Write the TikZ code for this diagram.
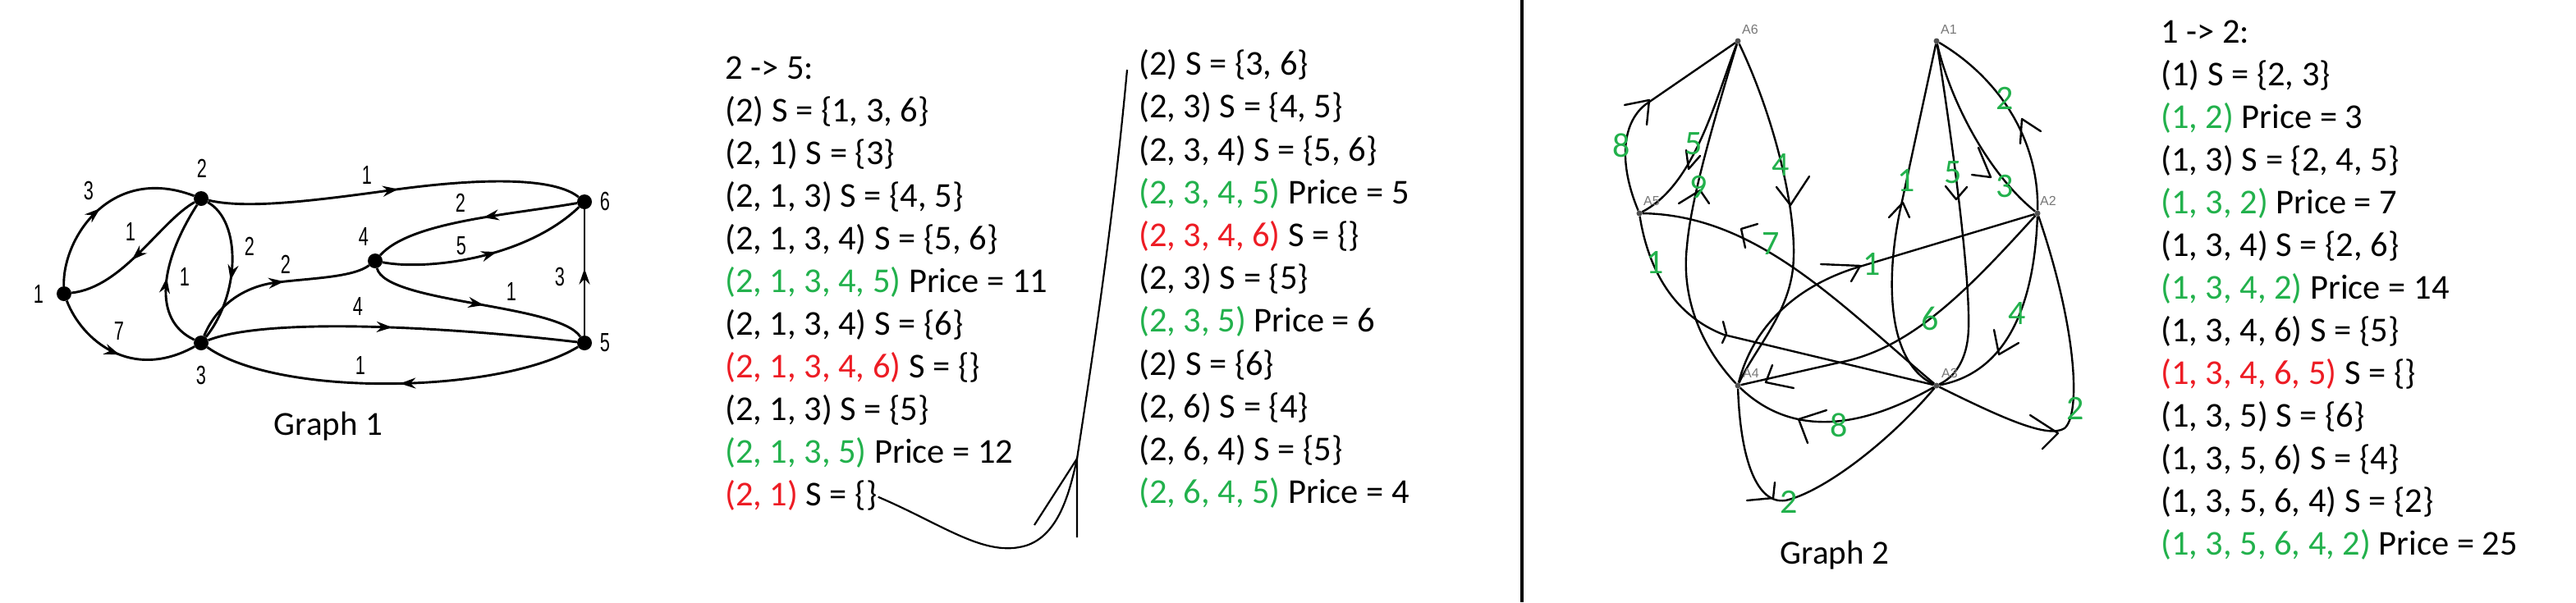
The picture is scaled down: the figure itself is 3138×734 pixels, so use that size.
\documentclass[tikz,border=0pt]{standalone}
\usepackage{graphicx}
\usepackage{fontspec}
\setmainfont{Carlito}
\newfontfamily\arialf{Liberation Sans}
\usetikzlibrary{arrows.meta,decorations.markings}
\definecolor{pgreen}{RGB}{34,177,76}
\definecolor{pred}{RGB}{237,28,36}
\definecolor{nodegray}{RGB}{80,80,80}
\definecolor{labgray}{RGB}{120,120,120}
\newcommand\nrw[1]{\scalebox{0.68}[1]{#1}}
\begin{document}
\begin{tikzpicture}[x=1pt,y=-1pt,
  txt/.style={anchor=base west,inner sep=0pt,font=\fontsize{42.5}{51}\selectfont},
  captxt/.style={anchor=base,inner sep=0pt,font=\fontsize{41}{49}\selectfont},
  g1dot/.style={circle,fill=black,inner sep=0pt,minimum size=18pt},
  g1edge/.style={line width=2.9pt},
  marr/.style={postaction={decorate},decoration={markings,mark=at position #1 with {\arrow{Stealth[length=19pt,width=13pt]}}}},
  g1lab/.style={inner sep=0pt,font=\arialf\fontsize{32}{38}\selectfont},
  g2dot/.style={circle,fill=nodegray,inner sep=0pt,minimum size=7pt},
  g2name/.style={anchor=base west,inner sep=0pt,text=labgray,font=\arialf\fontsize{16}{19}\selectfont},
  g2edge/.style={line width=2.4pt},
  chev/.style={line width=2.4pt,line cap=round,line join=round},
  g2w/.style={inner sep=0pt,text=pgreen,font=\fontsize{42}{50}\selectfont},
  conn/.style={line width=2.2pt},
]
\fill[white] (0,0) rectangle (3138,734);
\useasboundingbox (0,0) rectangle (3138,734);

% ---------------- Graph 1 ----------------
\node[g1dot] (n1) at (78,358) {};
\node[g1dot] (n2) at (245,242) {};
\node[g1dot] (n3) at (245,418) {};
\node[g1dot] (n4) at (457,318) {};
\node[g1dot] (n5) at (712,418) {};
\node[g1dot] (n6) at (712,246) {};

\draw[g1edge,marr=0.47] (n1) .. controls (76,290) and (135,200) .. (n2);
\draw[g1edge,marr=0.55] (n2) .. controls (195,270) and (150,350) .. (n1);
\draw[g1edge,marr=0.5] (n1) .. controls (100,415) and (160,465) .. (n3);
\draw[g1edge,marr=0.48] (n3) .. controls (185,390) and (195,320) .. (n2);
\draw[g1edge,marr=0.58] (n2) .. controls (295,270) and (292,360) .. (n3);
\draw[g1edge,marr=0.54] (n3) .. controls (265,370) and (300,348) .. (339,344) .. controls (380,339) and (430,338) .. (n4);
\draw[g1edge,marr=0.51] (n2) .. controls (300,255) and (380,245) .. (475,232) .. controls (560,220) and (670,212) .. (n6);
\draw[g1edge,marr=0.46] (n6) .. controls (620,262) and (500,270) .. (n4);
\draw[g1edge,marr=0.55] (n4) .. controls (520,330) and (640,315) .. (n6);
\draw[g1edge,marr=0.53] (n4) .. controls (470,370) and (680,370) .. (n5);
\draw[g1edge,marr=0.5] (n3) .. controls (330,385) and (560,400) .. (n5);
\draw[g1edge,marr=0.48] (n5) .. controls (610,480) and (340,485) .. (n3);
\draw[g1edge,marr=0.53] (n5) -- (n6);

\node[g1lab] (v1) at (47,358) {\nrw{1}};
\node[g1lab] (v2) at (246,205) {\nrw{2}};
\node[g1lab] (v3) at (245,457) {\nrw{3}};
\node[g1lab] (v4) at (443,288) {\nrw{4}};
\node[g1lab] (v5) at (737,418) {\nrw{5}};
\node[g1lab] (v6) at (737,245) {\nrw{6}};

\node[g1lab] (w12) at (108,232) {\nrw{3}};
\node[g1lab] (w21) at (159,282) {\nrw{1}};
\node[g1lab] (w13) at (145,403) {\nrw{7}};
\node[g1lab] (w32) at (225,337) {\nrw{1}};
\node[g1lab] (w23) at (304,300) {\nrw{2}};
\node[g1lab] (w34) at (348,322) {\nrw{2}};
\node[g1lab] (w26) at (447,213) {\nrw{1}};
\node[g1lab] (w64) at (561,247) {\nrw{2}};
\node[g1lab] (w46) at (562,300) {\nrw{5}};
\node[g1lab] (w45) at (623,355) {\nrw{1}};
\node[g1lab] (w56) at (682,337) {\nrw{3}};
\node[g1lab] (w35) at (436,373) {\nrw{4}};
\node[g1lab] (w53) at (439,445) {\nrw{1}};

\node[captxt] (cap1) at (400,530) {Graph 1};

% ---------------- Column 1 ----------------
\node[txt] (c1l0) at (883,96.7) {2 -> 5:};
\node[txt] (c1l1) at (883,148.7) {(2) S = \{1, 3, 6\}};
\node[txt] (c1l2) at (883,200.7) {(2, 1) S = \{3\}};
\node[txt] (c1l3) at (883,252.7) {(2, 1, 3) S = \{4, 5\}};
\node[txt] (c1l4) at (883,304.7) {(2, 1, 3, 4) S = \{5, 6\}};
\node[txt] (c1l5) at (883,356.7) {\textcolor{pgreen}{(2, 1, 3, 4, 5)} Price = 11};
\node[txt] (c1l6) at (883,408.7) {(2, 1, 3, 4) S = \{6\}};
\node[txt] (c1l7) at (883,460.7) {\textcolor{pred}{(2, 1, 3, 4, 6)} S = \{\}};
\node[txt] (c1l8) at (883,512.7) {(2, 1, 3) S = \{5\}};
\node[txt] (c1l9) at (883,564.7) {\textcolor{pgreen}{(2, 1, 3, 5)} Price = 12};
\node[txt] (c1l10) at (883,616.7) {\textcolor{pred}{(2, 1)} S = \{\}};

% ---------------- Column 2 ----------------
\node[txt] (c2l0) at (1387,91.7) {(2) S = \{3, 6\}};
\node[txt] (c2l1) at (1387,143.9) {(2, 3) S = \{4, 5\}};
\node[txt] (c2l2) at (1387,196.1) {(2, 3, 4) S = \{5, 6\}};
\node[txt] (c2l3) at (1387,248.3) {\textcolor{pgreen}{(2, 3, 4, 5)} Price = 5};
\node[txt] (c2l4) at (1387,300.5) {\textcolor{pred}{(2, 3, 4, 6)} S = \{\}};
\node[txt] (c2l5) at (1387,352.7) {(2, 3) S = \{5\}};
\node[txt] (c2l6) at (1387,404.9) {\textcolor{pgreen}{(2, 3, 5)} Price = 6};
\node[txt] (c2l7) at (1387,457.1) {(2) S = \{6\}};
\node[txt] (c2l8) at (1387,509.3) {(2, 6) S = \{4\}};
\node[txt] (c2l9) at (1387,561.5) {(2, 6, 4) S = \{5\}};
\node[txt] (c2l10) at (1387,613.7) {\textcolor{pgreen}{(2, 6, 4, 5)} Price = 4};

% connector between columns
\coordinate (cs) at ([xshift=1pt,yshift=11pt]c1l10.base east);
\coordinate (cj) at (1312,559);
\coordinate (ce) at (1373,85);
\coordinate (ca1) at (1260,640);
\coordinate (ca2) at (1312,655);
\draw[conn] (cs) .. controls (1150,640) and (1200,680) .. (1250,665) .. controls (1290,652) and (1303,600) .. (cj) .. controls (1330,440) and (1355,280) .. (ce);
\draw[conn] (ca1) -- (cj) -- (ca2);

% divider
\coordinate (d1) at (1854,0);
\coordinate (d2) at (1854,734);
\draw[line width=3.3pt] (d1) -- (d2);

% ---------------- Graph 2 ----------------
\node[g2dot] (A6) at (2117,50) {};
\node[g2dot] (A1) at (2359,50) {};
\node[g2dot] (A5) at (1997,260) {};
\node[g2dot] (A2) at (2482,260) {};
\node[g2dot] (A4) at (2117,470) {};
\node[g2dot] (A3) at (2359,470) {};

\draw[g2edge] (A5) .. controls (1972,200) and (1975,150) .. (2005,127) -- (A6);
\draw[g2edge] (A6) .. controls (2090,120) and (2065,225) .. (A5);
\draw[g2edge] (A4) .. controls (2070,420) and (2048,360) .. (2055,300) .. controls (2060,240) and (2090,140) .. (A6);
\draw[g2edge] (A6) .. controls (2165,150) and (2195,280) .. (2182,340) .. controls (2172,390) and (2135,430) .. (A4);
\draw[g2edge] (A3) .. controls (2240,370) and (2140,262) .. (A5);
\draw[g2edge] (A5) .. controls (2008,330) and (2040,385) .. (2100,408) -- (A3);
\draw[g2edge] (A4) .. controls (2135,400) and (2185,350) .. (2262,326) -- (A2);
\draw[g2edge] (A3) .. controls (2295,440) and (2298,330) .. (2316,250) -- (A1);
\draw[g2edge] (A1) .. controls (2375,150) and (2400,330) .. (2398,400) .. controls (2397,440) and (2380,460) .. (A3);
\draw[g2edge] (A1) .. controls (2375,120) and (2420,210) .. (A2);
\draw[g2edge] (A2) .. controls (2484,170) and (2435,95) .. (A1);
\draw[g2edge] (A2) .. controls (2478,380) and (2440,455) .. (A3);
\draw[g2edge] (A3) .. controls (2440,510) and (2495,535) .. (2515,522) .. controls (2535,505) and (2530,400) .. (A2);
\draw[g2edge] (A2) .. controls (2400,350) and (2330,425) .. (2240,442) -- (A4);
\draw[g2edge] (A3) .. controls (2280,515) and (2190,540) .. (A4);
\draw[g2edge] (A4) .. controls (2120,560) and (2140,615) .. (2175,610) .. controls (2220,600) and (2300,540) .. (A3);

% hand-drawn arrowheads
\draw[chev] (1979,128) -- (2009,122) -- (2006,152);
\draw[chev] (2054,183) -- (2057,206) -- (2071,190);
\draw[chev] (2045,248) -- (2071,232) -- (2082,248);
\draw[chev] (2164,228) -- (2181,250) -- (2204,215);
\draw[chev] (2141,273) -- (2121,279) -- (2126,302);
\draw[chev] (2099,392) -- (2103,407) -- (2098,418);
\draw[chev] (2218,322) -- (2266,324) -- (2255,343);
\draw[chev] (2301,265) -- (2318,247) -- (2326,265);
\draw[chev] (2370,227) -- (2383,243) -- (2396,228);
\draw[chev] (2410,180) -- (2425,216) -- (2402,213);
\draw[chev] (2461,175) -- (2463,145) -- (2486,160);
\draw[chev] (2429,402) -- (2435,432) -- (2459,418);
\draw[chev] (2473,506) -- (2507,528) -- (2488,547);
\draw[chev] (2159,445) -- (2151,466) -- (2185,473);
\draw[chev] (2202,540) -- (2191,511) -- (2225,500);
\draw[chev] (2128,610) -- (2160,607) -- (2162,588);

\node[g2name] (lA6) at (2122,41) {A6};
\node[g2name] (lA1) at (2364,41) {A1};
\node[g2name] (lA5) at (2002,250) {A5};
\node[g2name] (lA2) at (2485,250) {A2};
\node[g2name] (lA4) at (2123,460) {A4};
\node[g2name] (lA3) at (2365,460) {A3};

\node[g2w] (x8a) at (1975,177) {8};
\node[g2w] (x5a) at (2063,175) {5};
\node[g2w] (x9) at (2069,228) {9};
\node[g2w] (x4a) at (2169,201) {4};
\node[g2w] (x7) at (2157,297) {7};
\node[g2w] (x1a) at (2016,320) {1};
\node[g2w] (x1b) at (2280,322) {1};
\node[g2w] (x1c) at (2322,220) {1};
\node[g2w] (x5b) at (2379,210) {5};
\node[g2w] (x3) at (2442,227) {3};
\node[g2w] (x2a) at (2442,120) {2};
\node[g2w] (x4b) at (2457,382) {4};
\node[g2w] (x2b) at (2528,498) {2};
\node[g2w] (x6) at (2351,388) {6};
\node[g2w] (x8b) at (2240,518) {8};
\node[g2w] (x2c) at (2179,612) {2};

\node[captxt] (cap2) at (2235,687) {Graph 2};

% ---------------- Column 3 ----------------
\node[txt] (c3l0) at (2632,52.7) {1 -> 2:};
\node[txt] (c3l1) at (2632,104.7) {(1) S = \{2, 3\}};
\node[txt] (c3l2) at (2632,156.7) {\textcolor{pgreen}{(1, 2)} Price = 3};
\node[txt] (c3l3) at (2632,208.7) {(1, 3) S = \{2, 4, 5\}};
\node[txt] (c3l4) at (2632,260.7) {\textcolor{pgreen}{(1, 3, 2)} Price = 7};
\node[txt] (c3l5) at (2632,312.7) {(1, 3, 4) S = \{2, 6\}};
\node[txt] (c3l6) at (2632,364.7) {\textcolor{pgreen}{(1, 3, 4, 2)} Price = 14};
\node[txt] (c3l7) at (2632,416.7) {(1, 3, 4, 6) S = \{5\}};
\node[txt] (c3l8) at (2632,468.7) {\textcolor{pred}{(1, 3, 4, 6, 5)} S = \{\}};
\node[txt] (c3l9) at (2632,520.7) {(1, 3, 5) S = \{6\}};
\node[txt] (c3l10) at (2632,572.7) {(1, 3, 5, 6) S = \{4\}};
\node[txt] (c3l11) at (2632,624.7) {(1, 3, 5, 6, 4) S = \{2\}};
\node[txt] (c3l12) at (2632,676.7) {\textcolor{pgreen}{(1, 3, 5, 6, 4, 2)} Price = 25};
\end{tikzpicture}
\end{document}
